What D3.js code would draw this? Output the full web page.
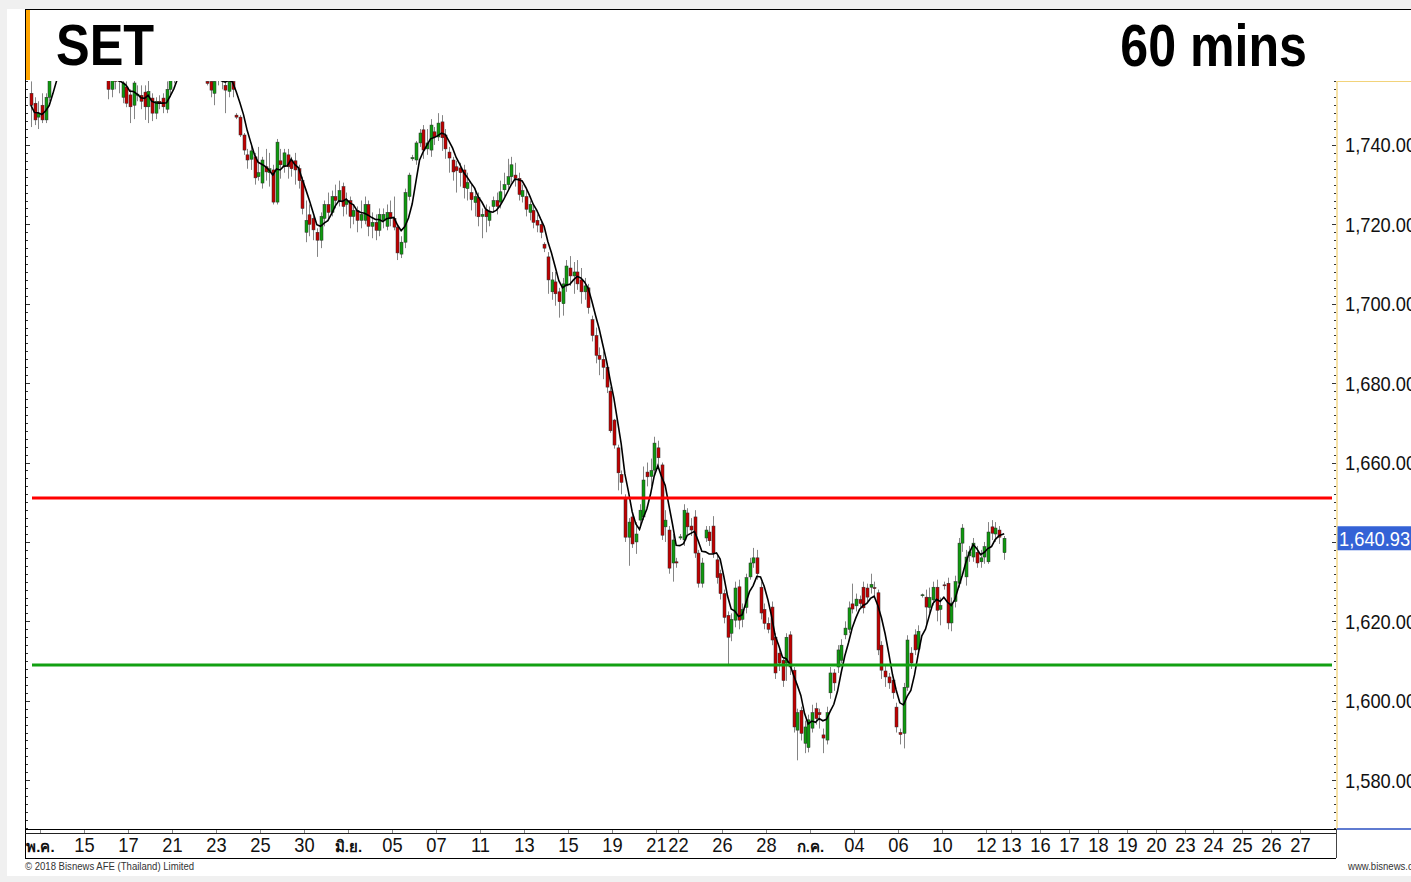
<!DOCTYPE html>
<html><head><meta charset="utf-8">
<script src="https://cdn.jsdelivr.net/npm/d3@7"></script>
<style>
html,body{margin:0;padding:0;background:#f0f0f0;overflow:hidden}
svg{display:block}
text{font-family:"Liberation Sans",Arial,sans-serif}
</style></head><body>
<svg id="c" width="1411" height="882"></svg>
<script>
// ---------- data ----------
const chartTitle = "SET";
const intervalLabel = "60 mins";
const creditText = "© 2018 Bisnews AFE (Thailand) Limited";
const siteText = "www.bisnews.com";
const tickLabels = ["พ.ค.","15","17","21","23","25","30","มิ.ย.","05","07","11","13","15","19","21","22","26","28","ก.ค.","04","06","10","12","13","16","17","18","19","20","23","24","25","26","27"];
const tickDays   = [0,2,4,6,8,10,12,14,16,18,20,22,24,26,28,29,31,33,35,37,39,41,43,44,45,46,47,48,49,50,51,52,53,54];
// the 1,640 label is covered by the last-price box in the reference
const yTickValues = [1580,1600,1620,1660,1680,1700,1720,1740];
const resistanceLevel = 1651.1;
const supportLevel = 1609;
const lastPrice = 1640.93;
const barsPerDay = 6;
const maPeriod = 5;
// hourly candles [open, high, low, close]
const ohlc = [
 [1753,1756,1744.5,1750],[1750.5,1752,1745,1746.3],[1747,1751,1744,1748],[1750,1753,1745.5,1746.3],[1746.3,1753,1745.5,1752],[1752,1760,1751,1757],
 [1757,1763,1756.5,1761],[1761,1766,1759,1764],[1764,1768,1762,1765],[1765,1767,1761,1762],[1762,1765,1759,1763],[1763,1766,1760,1761],
 [1761,1764,1758,1760],[1760,1763,1757.5,1762],[1762,1766,1760,1765],[1765,1769,1763,1767],[1767,1770,1764,1765],[1765,1767,1761,1762],
 [1762,1765,1758,1759],[1759,1762,1757,1760],[1760,1763,1757,1758],[1758,1760,1751.5,1754],[1754,1759,1752,1757],[1757,1760,1754,1756],
 [1757,1760,1753,1756],[1752,1757,1750.5,1755.6],[1754.6,1756,1749.5,1750.5],[1752.6,1754,1745.5,1749.6],[1750,1757,1746.5,1755.6],[1752.5,1755,1751,1752.8],
 [1752.5,1755,1749,1751],[1753.3,1755,1746.3,1749.6],[1749.6,1757,1745.5,1753.5],[1751.8,1753,1746,1748],[1748,1752,1746.5,1751],[1751,1752.5,1749,1750.5],
 [1751.8,1753,1748,1749.6],[1749,1756,1748,1754],[1754,1758,1752,1756.5],[1756.5,1763,1755.5,1760],[1760,1765,1757,1763],[1763,1767,1760,1765],
 [1765,1770,1762,1768],[1768,1772,1765,1769],[1769,1771,1764,1766],[1766,1769,1762,1764],[1764,1767,1760,1762],[1762,1765,1758,1760],
 [1756,1758,1755,1755.5],[1756,1759,1752,1753.8],[1753,1760,1750,1756],[1757,1762,1755,1759],[1758,1760,1754,1756.5],[1755,1758,1748,1753.8],
 [1753.5,1759,1752,1756],[1756,1758,1752,1754],[1747.5,1748,1746.5,1747],[1747,1747.5,1742,1742.5],[1742.5,1743,1737.5,1738.7],[1737.5,1739,1734,1736.2],
 [1736.4,1740.5,1733.7,1738.5],[1737,1738,1730,1731.7],[1732,1739.5,1731,1733],[1730.4,1737,1729,1736.2],[1734.5,1739,1731,1733.2],[1733,1738,1729.5,1734],
 [1733.7,1735,1725,1725.6],[1725.6,1741.5,1725,1740.7],[1736,1739,1731.5,1735],[1734.5,1739,1733,1738],[1737.5,1739,1731.5,1734.5],[1736,1737,1732,1734],
 [1736,1738,1730,1733.7],[1734,1735,1729,1731],[1731,1732,1722.5,1724],[1718,1726,1715.5,1721],[1722.4,1725,1717,1720],[1721.5,1722,1716,1718.6],
 [1718,1719,1711.8,1716],[1716,1723,1714,1722],[1721.5,1726,1719.5,1725],[1725,1728,1721,1723],[1723,1728.5,1722,1727],[1727,1730,1724,1726],
 [1726,1731,1724.5,1728.5],[1729.5,1730.5,1722,1724.5],[1725,1728,1722.5,1726],[1726,1727,1719,1722],[1722,1725,1720,1723.5],[1723.5,1724.5,1718,1721],
 [1721,1726,1719,1722.5],[1721,1727,1720,1725],[1725,1726,1717,1719.5],[1719.5,1723,1716.5,1720.5],[1720.5,1722.5,1716,1718.5],[1718.5,1724,1717,1722.5],
 [1721,1724,1719,1722.5],[1719.5,1725,1718.5,1723],[1723,1726,1719.5,1721.5],[1721.5,1727,1718.5,1719.3],[1719.3,1720,1711,1712.8],[1712.5,1717,1711.5,1715.5],
 [1715.5,1729,1714,1728],[1727,1733,1726,1732.4],[1736.5,1737.5,1736,1736.8],[1736.2,1741,1735,1740.5],[1740.5,1744,1739.5,1743],[1743.8,1745,1736.5,1738.7],
 [1739,1744,1737.5,1740.5],[1738.7,1746.5,1737,1745],[1743.3,1744.5,1740,1742],[1742,1748,1741,1745.5],[1745.8,1747.5,1738.5,1741.8],[1742.5,1744,1736.5,1739],
 [1738.2,1739.5,1733,1736.7],[1736.2,1737,1731,1733.2],[1734.5,1736,1728,1733.5],[1734.2,1735.5,1729.5,1733],[1733.7,1735,1726.5,1729.2],[1729,1733,1726,1730.5],
 [1728,1730,1723.5,1726.2],[1725.5,1729,1722,1727],[1726.7,1728,1719.5,1721.9],[1722,1724,1716.5,1722.5],[1723.6,1725,1718,1721.9],[1721,1724.5,1719.5,1723],
 [1724.5,1727,1723,1726],[1726,1728,1722.5,1724.5],[1725.6,1731,1724,1728.2],[1728.7,1733,1727,1730],[1730,1736.5,1728.5,1732],[1732,1737,1730.5,1735],
 [1732.4,1735.5,1729.5,1731.6],[1731.6,1733,1726,1727.5],[1727,1730,1725.5,1728.5],[1727,1729,1722,1723.8],[1723,1726,1721,1725],[1723.5,1725,1719,1720.5],
 [1721,1722.5,1718,1719.8],[1720,1721,1716.5,1718],[1715,1715.5,1713,1714],[1711.8,1713,1702.5,1706],[1703,1708,1701,1706],[1705.5,1708,1699.5,1702.5],
 [1703,1704,1696.5,1700.5],[1700,1706.5,1697,1705],[1704.5,1711,1703,1709.5],[1709,1712,1704.5,1707],[1707,1710.5,1702.5,1708],[1708,1711,1703.5,1705],
 [1706,1709,1700,1703],[1703,1706.5,1701,1704.5],[1704,1705,1697.5,1699],[1696,1697,1690.5,1692],[1692,1694,1685,1687],[1687,1689,1682,1686],
 [1686,1688,1681,1684],[1684,1685,1677.5,1679],[1678,1679,1667.5,1668],[1670.7,1671,1663.5,1664.4],[1663.7,1664.5,1653,1657.4],[1657,1658,1652,1655],
 [1651,1652,1640,1641.2],[1641.2,1646,1634,1645],[1646.3,1647,1638.5,1639.5],[1640,1645,1637,1642],[1645.5,1649.5,1643.5,1648],[1646.3,1659,1645.5,1655.6],
 [1657.6,1660,1654,1656.4],[1656.5,1661,1654,1658],[1658.1,1666.5,1657,1664.9],[1663.7,1665.5,1658.5,1661.2],[1659.4,1660,1640.5,1641.7],[1643.8,1648,1640,1645.5],
 [1643,1644,1632,1633.4],[1634.7,1642,1630,1640.5],[1635,1636,1633.5,1634.7],[1641,1642,1640.5,1641.3],[1640.5,1649.5,1639,1648],[1647.3,1648.5,1642,1643.8],
 [1644,1646,1641.5,1643],[1646.3,1648,1636,1637.2],[1637.2,1638,1628.5,1629.6],[1629.6,1636,1628.5,1634.7],[1641,1644,1640,1643],[1642.5,1644,1639,1640.3],
 [1644,1646.5,1636,1637.2],[1635.5,1636.5,1629.5,1631],[1632,1633,1625.5,1627],[1627,1628,1619.5,1621],[1621.5,1622.5,1609,1616],[1617,1622,1615,1620.5],
 [1620.3,1630,1618.5,1628.4],[1628.7,1630.5,1618,1620.3],[1620.5,1624.5,1618.5,1623],[1623.5,1632,1622,1631],[1631.2,1636,1630.5,1634.7],[1634.7,1638.5,1633.5,1636],
 [1636,1638,1630.5,1632],[1628.6,1630,1620.5,1622.1],[1623,1624.5,1618,1619.5],[1619.5,1621,1617,1618],[1623.6,1625,1614,1615.3],[1616,1617,1605.5,1607],
 [1612,1613.5,1607.5,1609.5],[1610.2,1611,1603.5,1605.1],[1609.5,1617,1605,1616],[1616.6,1617.5,1606.5,1608.5],[1607.7,1608.5,1592,1593.4],[1592.6,1598,1585,1597],
 [1597.6,1598.5,1590,1591.8],[1589.3,1595,1586.8,1593.4],[1588.2,1596.5,1587,1595.2],[1593.1,1599,1592,1597],[1598,1599.5,1594,1595.5],[1597,1598,1593,1596.5],
 [1591.4,1593,1586.8,1590.6],[1590.1,1598.5,1589,1597],[1602,1608.5,1600.5,1607],[1607,1608,1602.5,1604.5],[1608.5,1614,1607,1612.8],[1610.2,1615.5,1609.5,1614],
 [1616.6,1620,1615.5,1618.3],[1618,1625,1617,1623.4],[1624.4,1629.5,1622,1623.1],[1623.9,1627,1622.5,1625.6],[1625.5,1626.5,1623.5,1624.5],[1628.6,1630,1622,1623.4],
 [1628.4,1629.5,1625,1626.1],[1628.6,1632,1627,1629.3],[1628.5,1630,1626.5,1628.3],[1627.2,1628,1611.5,1612.8],[1614,1615,1605.5,1607.7],[1607.5,1609,1603.5,1606],
 [1606,1607,1603,1604.5],[1605.2,1606,1600.5,1602],[1598.4,1599.5,1592,1593.4],[1592,1593,1589,1591.5],[1591.8,1604.5,1588,1603.4],[1603.4,1616.5,1602.5,1615.3],
 [1612,1613.5,1608,1609.5],[1616.6,1618,1611.5,1612.8],[1613,1619,1612,1617.5],[1626.5,1627,1626,1626.7],[1626.1,1628,1619,1623.6],[1623.5,1628.5,1622,1626],
 [1625.4,1630,1624,1628.6],[1628.6,1630.5,1620,1622.8],[1623,1626,1619,1624],[1629.2,1630,1628,1629],[1629.6,1631,1618,1619.6],[1619.6,1626,1617.5,1624.6],
 [1625,1631.5,1623.5,1630],[1629.6,1641,1628.5,1639.7],[1639.7,1644.5,1637.5,1643.5],[1631.2,1638,1629,1636.2],[1636.5,1639,1635,1637.5],[1636.2,1641,1635,1639.7],
 [1637.4,1639,1633.5,1634.7],[1635,1638,1633.5,1636],[1636.2,1640,1634.5,1638.8],[1635,1645,1634.5,1642.5],[1643.8,1645.5,1640.5,1642.2],[1642,1645,1640,1643.5],
 [1643,1644,1639.5,1641.2],[1637.3,1641.5,1635.5,1640.93]
];

// ---------- layout ----------
const W = 1411, H = 882;
const plot = {l: 26, r: 1336, t: 81, b: 829};
const svg = d3.select("#c");
const FS = 0.87; // horizontal squeeze of the reference text

function txt(g, x, y, s, opt = {}) {
  return g.append("text")
    .attr("transform", `translate(${x},${y}) scale(${opt.sx ?? FS},1)`)
    .attr("text-anchor", opt.anchor || "start")
    .attr("font-size", opt.size || 21)
    .attr("font-weight", opt.weight || "normal")
    .attr("fill", opt.fill || "#111")
    .text(s);
}

// panels
svg.append("rect").attr("x", 7).attr("y", 9).attr("width", W - 7).attr("height", 867).attr("fill", "#fff");

const x = d3.scaleLinear().domain([0, 43.5, 54]).range([40, 997, 1300]);
const y = d3.scaleLinear().domain([1567.7, 1756.1]).range([plot.b, plot.t]);
const barPos = i => Math.floor(i / barsPerDay) - 0.5 + ((i % barsPerDay) + 0.5) / barsPerDay;

// frame lines
svg.append("line").attr("x1", 25).attr("x2", W).attr("y1", 9.5).attr("y2", 9.5).attr("stroke", "#000");
svg.append("line").attr("x1", 25.5).attr("x2", 25.5).attr("y1", 9).attr("y2", 858).attr("stroke", "#000");
svg.append("rect").attr("x", 26).attr("y", 10).attr("width", 4).attr("height", 70).attr("fill", "#ffa500");

// titles
txt(svg, 56, 65, chartTitle, {size: 58, weight: "bold", fill: "#000"});
txt(svg, 1307, 66, intervalLabel, {size: 59, weight: "bold", fill: "#000", anchor: "end", sx: 0.85});

// clip
svg.append("defs").append("clipPath").attr("id", "pc").append("rect")
  .attr("x", plot.l).attr("y", plot.t).attr("width", plot.r - plot.l).attr("height", plot.b - plot.t);
const pg = svg.append("g").attr("clip-path", "url(#pc)");

// left edge ticks
const minorVals = d3.range(1568, 1757, 2);
svg.append("g").selectAll("line").data(minorVals).join("line")
  .attr("x1", 26).attr("x2", d => d % 20 === 0 ? 30 : 28)
  .attr("y1", d => Math.round(y(d)) + 0.5).attr("y2", d => Math.round(y(d)) + 0.5)
  .attr("stroke", "#333");

// candles
const bars = pg.append("g");
ohlc.forEach((d, i) => {
  const [o, h, l, c] = d;
  const cx = Math.round(x(barPos(i))) + 0.5;
  bars.append("line").attr("x1", cx).attr("x2", cx).attr("y1", y(h)).attr("y2", y(l))
    .attr("stroke", "#858585").attr("stroke-width", 1);
  const top = y(Math.max(o, c)), bot = y(Math.min(o, c));
  bars.append("rect").attr("x", cx - 1.5).attr("width", 3)
    .attr("y", top).attr("height", Math.max(1, bot - top))
    .attr("fill", c >= o ? "#0f9a0f" : "#c00000")
    .attr("stroke", "#2a2a2a").attr("stroke-width", 0.5);
});

// moving average of closes
const closes = ohlc.map(d => d[3]);
const ma = closes.map((_, i) => {
  const s = closes.slice(Math.max(0, i - maPeriod + 1), i + 1);
  return d3.mean(s);
});
pg.append("path").datum(ma)
  .attr("d", d3.line().x((d, i) => x(barPos(i))).y(d => y(d)))
  .attr("fill", "none").attr("stroke", "#000").attr("stroke-width", 1.6);

// levels
pg.append("line").attr("x1", 32).attr("x2", 1332).attr("y1", y(resistanceLevel)).attr("y2", y(resistanceLevel))
  .attr("stroke", "#ff0000").attr("stroke-width", 3);
pg.append("line").attr("x1", 32).attr("x2", 1332).attr("y1", y(supportLevel)).attr("y2", y(supportLevel))
  .attr("stroke", "#12a012").attr("stroke-width", 3);

// right axis
const ax = svg.append("g");
ax.append("line").attr("x1", 1336.5).attr("x2", W).attr("y1", 81.5).attr("y2", 81.5).attr("stroke", "#f2d37a");
ax.append("line").attr("x1", 1337).attr("x2", 1337).attr("y1", 81).attr("y2", 829)
  .attr("stroke", "#f5d98a").attr("stroke-width", 1.5);
ax.selectAll("line.t").data(minorVals).join("line").attr("class", "t")
  .attr("x1", d => d % 20 === 0 ? 1332 : 1334).attr("x2", 1336)
  .attr("y1", d => Math.round(y(d)) + 0.5).attr("y2", d => Math.round(y(d)) + 0.5)
  .attr("stroke", "#333");
const fmt = d3.format(",.2f");
yTickValues.forEach(v => txt(ax, 1345, y(v) + 7.5, fmt(v), {size: 21, fill: "#111"}));
ax.append("rect").attr("x", 1337.5).attr("y", y(lastPrice) - 12).attr("width", W - 1337).attr("height", 24).attr("fill", "#3462d6");
txt(ax, 1339, y(lastPrice) + 7.5, fmt(lastPrice), {size: 21, fill: "#fff"});

// bottom axis strip
const bx = svg.append("g");
bx.append("line").attr("x1", 25).attr("x2", 1336).attr("y1", 829.5).attr("y2", 829.5).attr("stroke", "#000");
bx.append("line").attr("x1", 25).attr("x2", 1336).attr("y1", 833.5).attr("y2", 833.5).attr("stroke", "#222");
bx.append("line").attr("x1", 25).attr("x2", 1336).attr("y1", 858.5).attr("y2", 858.5).attr("stroke", "#000");
bx.append("line").attr("x1", 1336.5).attr("x2", 1336.5).attr("y1", 829).attr("y2", 858).attr("stroke", "#444");
bx.append("line").attr("x1", 1337).attr("x2", W).attr("y1", 829).attr("y2", 829).attr("stroke", "#2a4fc0").attr("stroke-width", 1.5);
tickLabels.forEach((t, k) => {
  const px = Math.round(x(tickDays[k])) + 0.5;
  bx.append("line").attr("x1", px).attr("x2", px).attr("y1", 830).attr("y2", 833).attr("stroke", "#888");
  const thai = /[\u0E00-\u0E7F]/.test(t);
  txt(bx, px, 852, t, thai ? {size: 15, weight: "bold", anchor: "middle", fill: "#111", sx: 1}
                          : {size: 21, anchor: "middle", fill: "#111"});
});

// credits
txt(svg, 25, 870, creditText, {size: 11, fill: "#333"});
txt(svg, 1348, 870, siteText, {size: 11, fill: "#333"});
</script>
</body></html>
